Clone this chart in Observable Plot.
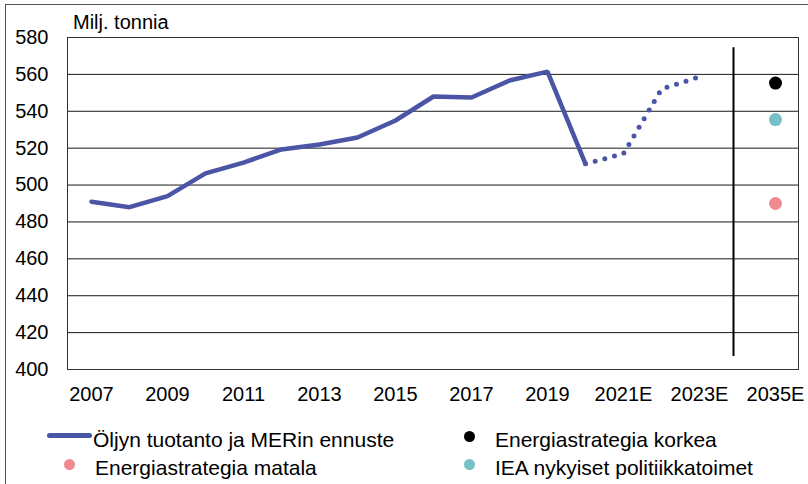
<!DOCTYPE html>
<html>
<head>
<meta charset="utf-8">
<script src="https://cdn.jsdelivr.net/npm/d3@7"></script>
<script src="https://cdn.jsdelivr.net/npm/@observablehq/plot@0.6"></script>
<style>
  body { margin:0; width:808px; height:484px; overflow:hidden; position:relative; background:#fff;
         font-family: "Liberation Sans", Arial, sans-serif; color:#000; }
  .abs { position:absolute; white-space:nowrap; }
  .txt { font-size:20px; line-height:20px; }
  .leg { font-size:21px; line-height:21px; }
  .sw-dot { position:absolute; width:11px; height:11px; border-radius:50%; }
</style>
</head>
<body>
<div class="abs" style="left:5px;top:4px;width:900px;height:600px;border-left:1px solid #555;border-top:1px solid #555;"></div>
<div id="chart" class="abs" style="left:0;top:0;"></div>
<div id="unit" class="abs txt" style="left:73px;top:12px;"></div>
<div id="legend"></div>
<script>
// ---- data ----
const categories = ["2007","2008","2009","2010","2011","2012","2013","2014","2015","2016","2017","2018","2019","2020","2021E","2022E","2023E"," ","2035E"];
const xTickLabels = ["2007","2009","2011","2013","2015","2017","2019","2021E","2023E","2035E"];
const yTicks = [400,420,440,460,480,500,520,540,560,580];

const actualCats = ["2007","2008","2009","2010","2011","2012","2013","2014","2015","2016","2017","2018","2019","2020"];
const actualVals = [491, 488, 494, 506.3, 512.2, 519.3, 522, 525.8, 535, 548, 547.5, 556.7, 561.5, 511.5];

const forecastCats = ["2020","2021E","2022E","2023E"];
const forecastVals = [511.5, 517, 552, 558.7];

const scenarioNames = ["Energiastrategia korkea","IEA nykyiset politiikkatoimet","Energiastrategia matala"];
const scenarioCat = "2035E";
const scenarioVals = [555.3, 535.5, 490];
const scenarioColors = ["#000000","#76c0c8","#f08a92"];

const separatorCat = " ";
const separatorRange = [574.5, 407];

const seriesName = "Öljyn tuotanto ja MERin ennuste";
const lineColor = "#4b55a5";
const unitLabel = "Milj. tonnia";

// ---- tables ----
const actual = actualCats.map((c,i)=>({cat:c, value:actualVals[i]}));
const forecast = forecastCats.map((c,i)=>({cat:c, value:forecastVals[i]}));
const scenarios = scenarioNames.map((n,i)=>({name:n, cat:scenarioCat, value:scenarioVals[i], color:scenarioColors[i]}));
const separator = [{cat:separatorCat, y1:separatorRange[0], y2:separatorRange[1]}];

const chart = Plot.plot({
  width: 808, height: 410,
  marginLeft: 67, marginRight: 10, marginTop: 37, marginBottom: 41,
  style: {fontFamily: "'Liberation Sans', Arial, sans-serif", fontSize: "20px", color: "#000", background: "transparent", overflow: "visible"},
  x: {type: "band", domain: categories, padding: 0, label: null},
  y: {domain: [400, 580], label: null},
  marks: [
    Plot.gridY(yTicks, {stroke: "#1a1a1a", strokeOpacity: 1, strokeWidth: 1}),
    Plot.frame({stroke: "#333"}),
    Plot.axisY(yTicks, {tickSize: 0, tickPadding: 19, label: null}),
    Plot.axisX(xTickLabels, {tickSize: 0, tickPadding: 17, label: null}),
    Plot.ruleX(separator, {x: "cat", y1: "y1", y2: "y2", stroke: "#000", strokeWidth: 2, dx: -4}),
    Plot.line(actual, {x: "cat", y: "value", stroke: lineColor, strokeWidth: 4.5, strokeLinejoin: "miter"}),
    Plot.line(forecast, {x: "cat", y: "value", stroke: lineColor, strokeWidth: 5, strokeDasharray: "0 10", strokeLinecap: "round"}),
    Plot.dot(scenarios, {x: "cat", y: "value", fill: "color", r: 6.5})
  ]
});
document.getElementById("chart").appendChild(chart);
document.getElementById("unit").textContent = unitLabel;

// ---- legend ----
const legend = document.getElementById("legend");
const items = [
  {label: seriesName, kind: "line", color: lineColor, left: 47, top: 429},
  {label: scenarioNames[0], kind: "dot", color: scenarioColors[0], left: 464, top: 429},
  {label: scenarioNames[2], kind: "dot", color: scenarioColors[2], left: 64, top: 457},
  {label: scenarioNames[1], kind: "dot", color: scenarioColors[1], left: 464, top: 457}
];
for (const it of items) {
  if (it.kind === "line") {
    const s = document.createElement("div");
    s.className = "abs";
    s.style.cssText = `left:${it.left}px;top:${it.top+4}px;width:45px;height:5px;border-radius:2.5px;background:${it.color};`;
    legend.appendChild(s);
    const t = document.createElement("div");
    t.className = "abs leg";
    t.style.left = (it.left + 46) + "px";
    t.style.top = it.top + "px";
    t.textContent = it.label;
    legend.appendChild(t);
  } else {
    const s = document.createElement("div");
    s.className = "sw-dot";
    s.style.cssText += `left:${it.left}px;top:${it.top+2}px;background:${it.color};`;
    legend.appendChild(s);
    const t = document.createElement("div");
    t.className = "abs leg";
    t.style.left = (it.left + 31) + "px";
    t.style.top = it.top + "px";
    t.textContent = it.label;
    legend.appendChild(t);
  }
}
</script>
</body>
</html>
